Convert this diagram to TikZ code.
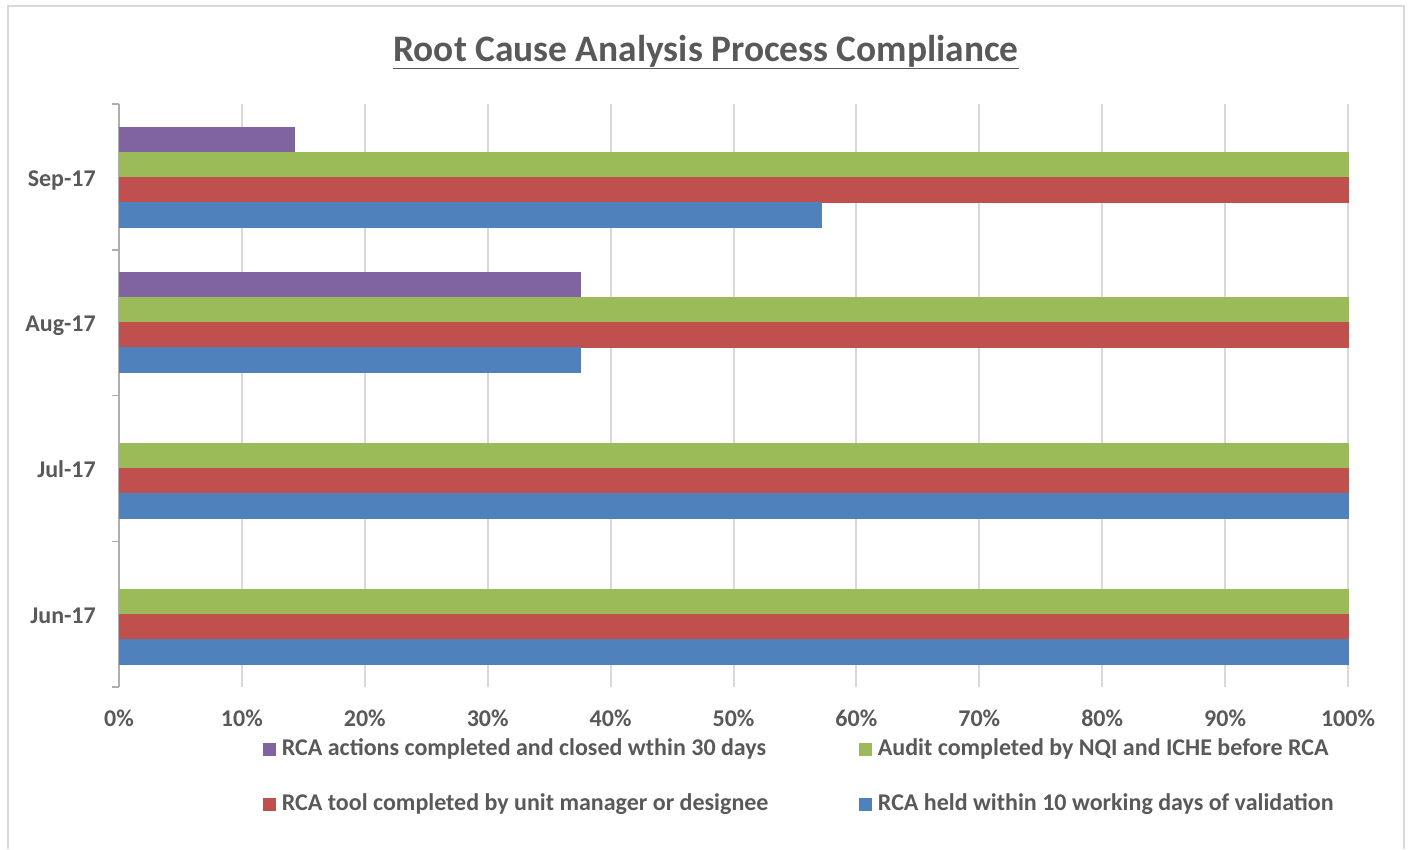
\documentclass[tikz,border=0pt]{standalone}
\usepackage{fontspec}
\setmainfont{Carlito}
\usetikzlibrary{positioning}
\definecolor{rcapurple}{HTML}{8064A2}
\definecolor{rcagreen}{HTML}{9BBB59}
\definecolor{rcared}{HTML}{C0504D}
\definecolor{rcablue}{HTML}{4F81BD}
\definecolor{gridgray}{HTML}{D9D9D9}
\definecolor{textgray}{HTML}{595959}
\tikzstyle{chart frame}=[draw=gridgray, line width=1.5pt]
\tikzstyle{grid line}=[draw=gridgray, line width=2pt]
\tikzstyle{axis line}=[draw=gridgray!80!black, line width=1.5pt]
\tikzstyle{bar}=[draw=white, line width=0.6pt]
\tikzstyle{label text}=[text=textgray, font=\bfseries\fontsize{24}{28}\selectfont, inner sep=0pt]
\tikzstyle{legend key}=[minimum size=13pt, inner sep=0pt]
\tikzstyle{legend text}=[label text, anchor=west]

\begin{document}
\begin{tikzpicture}[x=1pt, y=-1pt]
      \useasboundingbox (0, 0) rectangle (1416, 849);
      \fill[white] (0, 0) rectangle (1416, 849);
      \draw[chart frame] (8, 849) |- (1404, 6) -- (1404, 849);
      % title
      \node[text=textgray, font=\bfseries\fontsize{37.4}{42}\selectfont, inner sep=0pt] (title) at (706, 52)
        {\underline{Root Cause Analysis Process Compliance}};
      % grid and value axis
      \foreach \p in {1, ..., 10}
        \draw[grid line] (119 + 122.9*\p, 104) -- (119 + 122.9*\p, 687);
      \foreach \p in {0, ..., 10}
        \node[label text] (tick\p) at (119 + 122.9*\p, 718) {\pgfmathparse{int(10*\p)}\pgfmathresult\%};
      % category axis
      \draw[axis line] (119, 104) -- (119, 687);
      \foreach \c in {0, ..., 4}
        \draw[axis line] (112, 104 + 145.75*\c) -- (119, 104 + 145.75*\c);
      % bars: month, purple, green, red, blue
      \foreach \m/\vp/\vg/\vr/\vb [count=\i from 0] in
          {Sep-17/14.29/100/100/57.14, Aug-17/37.5/100/100/37.5,
           Jul-17/0/100/100/100, Jun-17/0/100/100/100} {
        \pgfmathsetmacro{\top}{104 + 145.75*\i + 23}
        \node[label text, anchor=base east] (month\i) at (96, \top + 59) {\m};
        \ifdim \vp pt > 0pt
          \fill[bar, rcapurple] (119, \top) rectangle (119 + 12.29*\vp, \top + 25);
        \fi
        \fill[bar, rcagreen] (119, \top + 25) rectangle (119 + 12.29*\vg, \top + 50);
        \fill[bar, rcared] (119, \top + 50) rectangle (119 + 12.29*\vr, \top + 75);
        \fill[bar, rcablue] (119, \top + 75) rectangle (119 + 12.29*\vb, \top + 100);
      }
      % legend
      \node[legend key, fill=rcapurple] (key actions) at (269, 749) {};
      \node[legend text, right=6pt of key actions] (txt actions) {RCA actions completed and closed wthin 30 days};
      \node[legend key, fill=rcagreen] (key audit) at (865, 749) {};
      \node[legend text, right=6pt of key audit] (txt audit) {Audit completed by NQI and ICHE before RCA};
      \node[legend key, fill=rcared] (key tool) at (269, 804) {};
      \node[legend text, right=6pt of key tool] (txt tool) {RCA tool completed by unit manager or designee};
      \node[legend key, fill=rcablue] (key held) at (865, 804) {};
      \node[legend text, right=6pt of key held] (txt held) {RCA held within 10 working days of validation};
    \end{tikzpicture}
\end{document}
